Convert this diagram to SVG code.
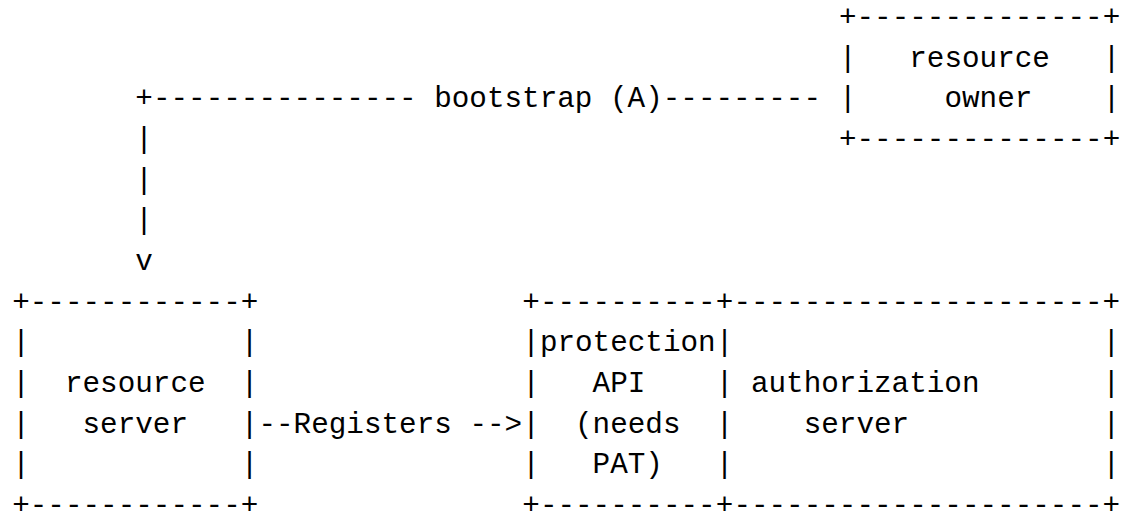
<svg xmlns="http://www.w3.org/2000/svg" width="1121" height="517" viewBox="0 0 1121 517">
<style>
text{font-family:"Liberation Mono","DejaVu Sans Mono",monospace;font-size:29.3px;fill:#000;white-space:pre}
</style>
<rect width="1121" height="517" fill="#fff"/>
<g id="connectors">
<text x="135.33" y="107.1" xml:space="preserve">+--------------- bootstrap (A)---------</text>
<text x="135.33" y="147.8">|</text>
<text x="135.33" y="188.5">|</text>
<text x="135.33" y="229.2">|</text>
<text x="135.33" y="269.8">v</text>
<text x="258.46" y="432.5" xml:space="preserve">--Registers --&gt;</text>
</g>
<g id="resource-owner">
<text x="838.93" y="25.8">+--------------+</text>
<text x="838.93" y="66.5" xml:space="preserve">|   resource   |</text>
<text x="838.93" y="107.1" xml:space="preserve">|     owner    |</text>
<text x="838.93" y="147.8">+--------------+</text>
</g>
<g id="resource-server">
<text x="12.2" y="310.5">+------------+</text>
<text x="12.2" y="351.2" xml:space="preserve">|            |</text>
<text x="12.2" y="391.8" xml:space="preserve">|  resource  |</text>
<text x="12.2" y="432.5" xml:space="preserve">|   server   |</text>
<text x="12.2" y="473.2" xml:space="preserve">|            |</text>
<text x="12.2" y="513.8">+------------+</text>
</g>
<g id="protection-api">
<text x="522.31" y="310.5">+----------+</text>
<text x="522.31" y="351.2">|protection|</text>
<text x="522.31" y="391.8" xml:space="preserve">|   API    |</text>
<text x="522.31" y="432.5" xml:space="preserve">|  (needs  |</text>
<text x="522.31" y="473.2" xml:space="preserve">|   PAT)   |</text>
<text x="522.31" y="513.8">+----------+</text>
</g>
<g id="authorization-server">
<text x="733.39" y="310.5">---------------------+</text>
<text x="733.39" y="351.2" xml:space="preserve">                     |</text>
<text x="733.39" y="391.8" xml:space="preserve"> authorization       |</text>
<text x="733.39" y="432.5" xml:space="preserve">    server           |</text>
<text x="733.39" y="473.2" xml:space="preserve">                     |</text>
<text x="733.39" y="513.8">---------------------+</text>
</g>
</svg>
